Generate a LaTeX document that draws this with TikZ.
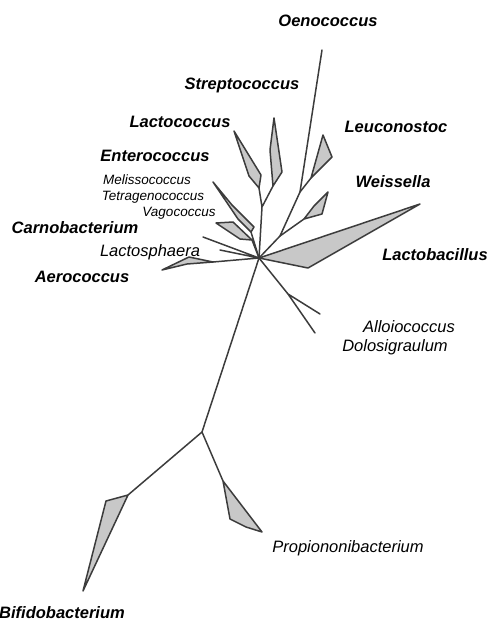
\documentclass[tikz,border=0pt]{standalone}
\usepackage{fontspec}
\setmainfont{Liberation Sans}
\usepackage{tikz}
\definecolor{TreeLine}{HTML}{3C3C3C}
\definecolor{TreeFill}{HTML}{C8C8C8}

\begin{document}
\begin{tikzpicture}[x=1pt,y=-1pt,
    branch/.style={TreeLine,line width=1.5pt,line cap=round,line join=round},
    clade/.style={branch,fill=TreeFill},
    genus/.style={font=\fontsize{16.5}{18}\selectfont\bfseries\itshape},
    genusplain/.style={font=\fontsize{16.5}{18}\selectfont\itshape},
    genussmall/.style={font=\fontsize{13.5}{15}\selectfont\itshape}]
  \useasboundingbox (0,0) rectangle (490,622);
  \coordinate (hub) at (259,258);
  \coordinate (lsfork) at (262,207);
  \coordinate (lcbase) at (259,188);
  \coordinate (stbase) at (273,186);
  \coordinate (wefork) at (280,236);
  \coordinate (oefork) at (300,192);
  \coordinate (oetip) at (322,50);
  \coordinate (lebase) at (311,178);
  \coordinate (webase) at (304,219);
  \coordinate (enbase) at (251,232);
  \coordinate (entip) at (213,182);
  \coordinate (cbbase) at (252,240);
  \coordinate (lpA) at (203,237);
  \coordinate (lpB) at (220,250);
  \coordinate (aebase) at (213,262);
  \coordinate (alfork) at (288,294);
  \coordinate (altip) at (320,314);
  \coordinate (dotip) at (315,333);
  \coordinate (rootfork) at (202,432);
  \coordinate (bfbase) at (128,495);
  \coordinate (prbase) at (223,481);

  \draw[clade] (hub) -- (420,204) -- (308,268) -- cycle;
  \draw[branch] (hub) -- (lsfork) (lsfork) -- (lcbase) (lsfork) -- (stbase);
  \draw[branch] (hub) -- (wefork) -- (oefork) -- (oetip);
  \draw[branch] (oefork) -- (lebase) (wefork) -- (webase);
  \draw[branch] (hub) -- (enbase) (hub) -- (cbbase) (hub) -- (lpA) (hub) -- (lpB) (hub) -- (aebase);
  \draw[branch] (hub) -- (alfork) -- (altip) (alfork) -- (dotip);
  \draw[branch] (hub) -- (rootfork) -- (bfbase) (rootfork) -- (prbase);

  \draw[clade] (lcbase) -- (249,176) -- (234,131) -- (261,175) -- cycle;
  \draw[clade] (stbase) -- (270,150) -- (274,118) -- (282,172) -- cycle;
  \draw[clade] (lebase) -- (323,135) -- (332,157) -- cycle;
  \draw[clade] (webase) -- (314,206) -- (328,192) -- (322,214) -- cycle;
  \draw[clade] (enbase) -- (238,219) -- (entip) -- (232,205) -- (254,227) -- cycle;
  \draw[clade] (cbbase) -- (240,239) -- (216,223) -- (233,222) -- cycle;
  \draw[clade] (aebase) -- (187,264) -- (162,270) -- (189,257) -- cycle;
  \draw[clade] (bfbase) -- (106,501) -- (83,591) -- cycle;
  \draw[clade] (prbase) -- (230,519) -- (246,527) -- (262,532) -- cycle;

  \node[genus] (oeno) at (328,21) {Oenococcus};
  \node[genus] (strep) at (242,85) {Streptococcus};
  \node[genus] (lactoc) at (180,122) {Lactococcus};
  \node[genus] (leuco) at (396,127) {Leuconostoc};
  \node[genus] (entero) at (155,156) {Enterococcus};
  \node[genussmall] (meliss) at (147,180) {Melissococcus};
  \node[genussmall] (tetra) at (153,197) {Tetragenococcus};
  \node[genussmall] (vago) at (179,213) {Vagococcus};
  \node[genus] (carno) at (75,228) {Carnobacterium};
  \node[genusplain] (lsph) at (150,252) {Lactosphaera};
  \node[genus] (aero) at (82,277) {Aerococcus};
  \node[genus] (weis) at (393,182) {Weissella};
  \node[genus] (lactob) at (435,255) {Lactobacillus};
  \node[genusplain] (alloio) at (409,327) {Alloiococcus};
  \node[genusplain] (dolo) at (395,347) {Dolosigraulum};
  \node[genusplain] (propio) at (348,548) {Propiononibacterium};
  \node[genus] (bifido) at (62,613) {Bifidobacterium};
\end{tikzpicture}
\end{document}
